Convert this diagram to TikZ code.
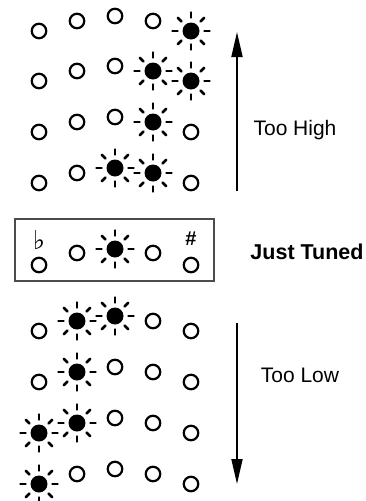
\documentclass[tikz,border=0pt]{standalone}
\usepackage{fontspec}
\setmainfont{Liberation Sans}
\newfontfamily\symfont{DejaVu Sans}
\usetikzlibrary{arrows.meta}

\begin{document}
\begin{tikzpicture}[x=1pt, y=-1pt,
    ledoff/.style={circle, draw, line width=2.2pt, minimum size=14.5pt, inner sep=0pt},
    ledon/.style={circle, fill, minimum size=17pt, inner sep=0pt},
    ray/.style={line width=2.8pt, line cap=round},
    tunearrow/.style={line width=1.8pt, -{Triangle[length=25pt, width=11pt]}},
    tunetext/.style={font=\fontsize{21}{25}\selectfont},
    tunedbox/.style={draw=black!70, line width=1.8pt, minimum width=199pt, minimum height=62pt, inner sep=0pt}]

  % Page size
  \useasboundingbox (0,0) rectangle (366,501);

  % Rows of five LEDs on an arc (row/base height/first lit/last lit)
  \foreach \row/\base/\lo/\hi in {1/16/5/5, 2/66/4/5, 3/117/4/4, 4/168/3/4,
                                  5/316/2/3, 6/367/2/2, 7/418/1/2, 8/469/1/1} {
    \foreach \col/\dy in {1/15, 2/5, 3/0, 4/5, 5/15} {
      \def\lit{1}
      \ifnum\col<\lo \def\lit{0}\fi
      \ifnum\col>\hi \def\lit{0}\fi
      \ifnum\lit=1
        \node[ledon] (r\row c\col) at ({39+38*(\col-1)}, \base+\dy) {};
        \foreach \a in {0,45,...,315}
          \draw[ray] (r\row c\col.center) ++(\a:13.5) -- ++(\a:5);
      \else
        \node[ledoff] (r\row c\col) at ({39+38*(\col-1)}, \base+\dy) {};
      \fi
    }
  }

  % Tuned row in its frame
  \node[tunedbox] (frame) at (114.5, 250) {};
  \node[ledoff] (m1) at (39, 265) {};
  \node[ledoff] (m2) at (77, 253) {};
  \node[ledon]  (m3) at (115, 249) {};
  \foreach \a in {0,45,...,315}
    \draw[ray] (m3.center) ++(\a:13.5) -- ++(\a:5);
  \node[ledoff] (m4) at (153, 253) {};
  \node[ledoff] (m5) at (191, 265) {};
  \node[font=\symfont\bfseries\fontsize{26}{28}\selectfont] (flat) at (39, 240) {♭};
  \node[font=\fontsize{20}{22}\selectfont\bfseries] (sharp) at (191, 239) {\#};

  % Arrows and labels on the right
  \coordinate (uptail) at (237, 191);
  \coordinate (uptip) at (237, 32);
  \coordinate (downtail) at (237, 323);
  \coordinate (downtip) at (237, 484);
  \draw[tunearrow] (uptail) -- (uptip);
  \draw[tunearrow] (downtail) -- (downtip);

  \node[tunetext] (high) at (295, 130) {Too High};
  \node[tunetext, font=\fontsize{21.5}{25}\selectfont\bfseries] (tuned) at (307, 252) {Just Tuned};
  \node[tunetext] (low) at (300, 375) {Too Low};

\end{tikzpicture}
\end{document}
